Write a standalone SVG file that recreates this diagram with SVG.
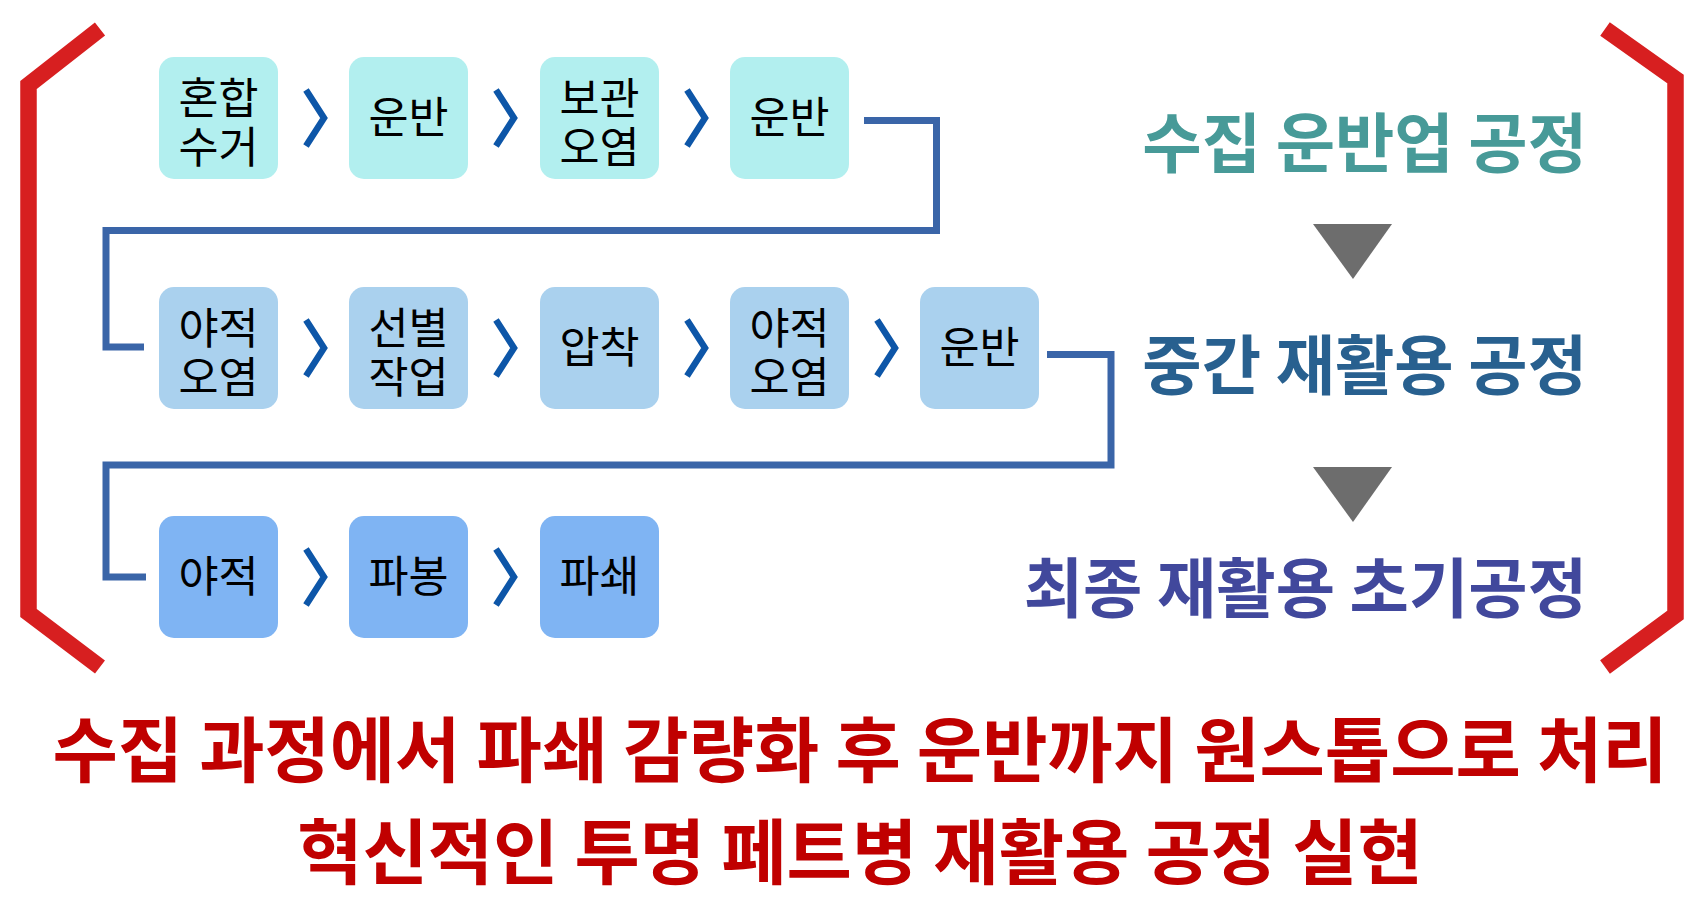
<svg xmlns="http://www.w3.org/2000/svg" width="1704" height="904" viewBox="0 0 1704 904">
<style>
.b1{fill:#b2efef}
.b2{fill:#aad1ee}
.b3{fill:#7fb4f3}
.t{font-family:"Noto Sans CJK KR","Noto Sans",sans-serif;font-size:43.5px;fill:#000;text-anchor:middle}
.chev{fill:none;stroke:#0d56a8;stroke-width:6.5;stroke-linejoin:miter}
.conn{fill:none;stroke:#3a65a8;stroke-width:7;stroke-linejoin:miter}
.brk{fill:none;stroke:#d71f20;stroke-width:16.5;stroke-linejoin:miter}
.lab{font-family:"Noto Sans CJK KR","Noto Sans",sans-serif;font-size:64.5px;font-weight:700;text-anchor:end}
.red{font-family:"Noto Sans CJK KR","Noto Sans",sans-serif;font-size:71px;font-weight:700;fill:#c00000;text-anchor:middle}
</style>
<rect width="1704" height="904" fill="#fff"/>
<g id="brackets">
<polyline class="brk" points="100,29 28.5,85 28.5,613 100,667"/>
<polyline class="brk" points="1605,29 1675.5,79 1675.5,615 1605,667"/>
</g>
<g id="connectors">
<polyline class="conn" points="864,120.5 936.5,120.5 936.5,230.5 106,230.5 106,347 144,347"/>
<polyline class="conn" points="1047,354.5 1111,354.5 1111,465 106,465 106,577 146,577"/>
<polyline class="chev" points="306,90 324,118 306,146"/>
<polyline class="chev" points="496,90 514,118 496,146"/>
<polyline class="chev" points="687,90 705,118 687,146"/>
<polyline class="chev" points="306,320 324,348 306,376"/>
<polyline class="chev" points="496,320 514,348 496,376"/>
<polyline class="chev" points="687,320 705,348 687,376"/>
<polyline class="chev" points="877,320 895,348 877,376"/>
<polyline class="chev" points="306,549 324,577 306,605"/>
<polyline class="chev" points="496,549 514,577 496,605"/>
</g>
<g id="n1"><rect class="b1" x="159" y="57" width="119" height="122" rx="15"/><text class="t" x="218.5" y="114">혼합<tspan x="218.5" y="163">수거</tspan></text></g>
<g id="n2"><rect class="b1" x="349" y="57" width="119" height="122" rx="15"/><text class="t" x="408.5" y="133">운반</text></g>
<g id="n3"><rect class="b1" x="540" y="57" width="119" height="122" rx="15"/><text class="t" x="599.5" y="114">보관<tspan x="599.5" y="163">오염</tspan></text></g>
<g id="n4"><rect class="b1" x="730" y="57" width="119" height="122" rx="15"/><text class="t" x="789.5" y="133">운반</text></g>
<g id="n5"><rect class="b2" x="159" y="287" width="119" height="122" rx="15"/><text class="t" x="218.5" y="344">야적<tspan x="218.5" y="393">오염</tspan></text></g>
<g id="n6"><rect class="b2" x="349" y="287" width="119" height="122" rx="15"/><text class="t" x="408.5" y="344">선별<tspan x="408.5" y="393">작업</tspan></text></g>
<g id="n7"><rect class="b2" x="540" y="287" width="119" height="122" rx="15"/><text class="t" x="599.5" y="363">압착</text></g>
<g id="n8"><rect class="b2" x="730" y="287" width="119" height="122" rx="15"/><text class="t" x="789.5" y="344">야적<tspan x="789.5" y="393">오염</tspan></text></g>
<g id="n9"><rect class="b2" x="920" y="287" width="119" height="122" rx="15"/><text class="t" x="979.5" y="363">운반</text></g>
<g id="n10"><rect class="b3" x="159" y="516" width="119" height="122" rx="15"/><text class="t" x="218.5" y="592">야적</text></g>
<g id="n11"><rect class="b3" x="349" y="516" width="119" height="122" rx="15"/><text class="t" x="408.5" y="592">파봉</text></g>
<g id="n12"><rect class="b3" x="540" y="516" width="119" height="122" rx="15"/><text class="t" x="599.5" y="592">파쇄</text></g>
<g id="stages">
<text class="lab" x="1587" y="167" fill="#479a98">수집 운반업 공정</text>
<polygon points="1313,224 1392,224 1353,279" fill="#6d6d6d"/>
<text class="lab" x="1587" y="389" fill="#28608f">중간 재활용 공정</text>
<polygon points="1313,467 1392,467 1353,522" fill="#6d6d6d"/>
<text class="lab" x="1587" y="612" fill="#41489c">최종 재활용 초기공정</text>
</g>
<g id="summary">
<text class="red" x="860" y="776">수집 과정에서 파쇄 감량화 후 운반까지 원스톱으로 처리</text>
<text class="red" x="860" y="878">혁신적인 투명 페트병 재활용 공정 실현</text>
</g>
</svg>
